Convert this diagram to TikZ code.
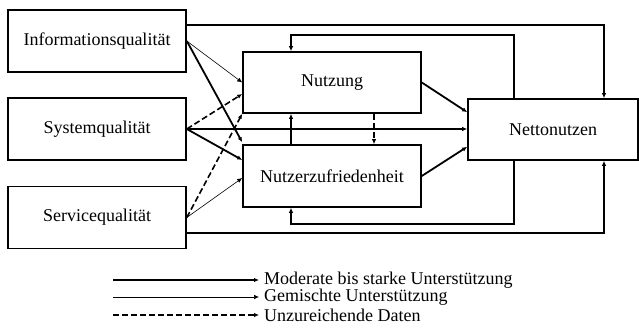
\documentclass[tikz,border=0pt]{standalone}
\usepackage{fontspec}
\setmainfont{Liberation Serif}
\usetikzlibrary{arrows.meta}
\begin{document}
\begin{tikzpicture}[x=1pt,y=1pt,
  font=\fontsize{18}{20}\selectfont,
  box/.style={draw, line width=1.6pt, inner sep=0pt, minimum width=178pt, minimum height=62pt},
  tip/.style={-{Latex[length=5pt,width=4.5pt]}},
  strong/.style={tip, line width=1.8pt},
  mixed/.style={tip, line width=0.6pt},
  weak/.style={tip, line width=1.6pt, dash pattern=on 6pt off 3pt},
  long/.style={tip, line width=1.4pt},
  legtext/.style={anchor=west, inner sep=0pt, font=\fontsize{18}{20}\selectfont}]
\useasboundingbox (0,0) rectangle (639,327);
\node[box] (info) at (97,286) {Informationsqualität};
\node[box] (sys) at (97,198) {Systemqualität};
\node[box] (serv) at (97,109.5) {Servicequalität};
\node[box, minimum height=61pt] (nutz) at (332,244.5) {Nutzung};
\node[box] (zuf) at (332,151) {Nutzerzufriedenheit};
\node[box, minimum width=170pt, minimum height=61pt] (netto) at (553,197.5) {Nettonutzen};
% left -> middle
\draw[mixed] (info.east) -- (nutz.west);
\draw[strong] (info.east) -- ([yshift=2pt]zuf.north west);
\draw[weak] (sys.east) -- ([yshift=-11.5pt]nutz.west);
\draw[strong] (sys.east) -- ([yshift=16pt]zuf.west);
\draw[strong] (sys.east) -- (sys.east -| netto.west);
\draw[weak] (serv.east) -- (nutz.south west);
\draw[mixed] (serv.east) -- ([yshift=-2pt]zuf.west);
% long outer lines
\draw[long] ([yshift=16pt]info.east) -| ([xshift=51pt]netto.north);
\draw[long] ([yshift=-15.5pt]serv.east) -| ([xshift=51pt]netto.south);
% feedback loops
\draw[strong] ([xshift=-39pt]netto.north) -- ++(0,63) -| ([xshift=-41pt]nutz.north);
\draw[strong] ([xshift=-39pt]netto.south) -- ++(0,-63) -| ([xshift=-41pt]zuf.south);
% middle
\draw[strong] ([xshift=-41pt]zuf.north) -- ([xshift=-41pt]nutz.south);
\draw[weak] ([xshift=42pt]nutz.south) -- ([xshift=42pt]zuf.north);
\draw[strong] (nutz.east) -- ([yshift=-14pt]netto.north west);
\draw[strong] (zuf.east) -- ([yshift=14pt]netto.south west);
% legend
\node[legtext] (l1) at (264,47) {Moderate bis starke Unterstützung};
\node[legtext] (l2) at (264,30) {Gemischte Unterstützung};
\node[legtext] (l3) at (264,12) {Unzureichende Daten};
\coordinate (s1) at (113,47);
\coordinate (s2) at (113,30);
\coordinate (s3) at (113,12);
\draw[strong] (s1) -- ([xshift=-5pt]l1.west);
\draw[mixed] (s2) -- ([xshift=-5pt]l2.west);
\draw[weak] (s3) -- ([xshift=-5pt]l3.west);
\end{tikzpicture}
\end{document}
